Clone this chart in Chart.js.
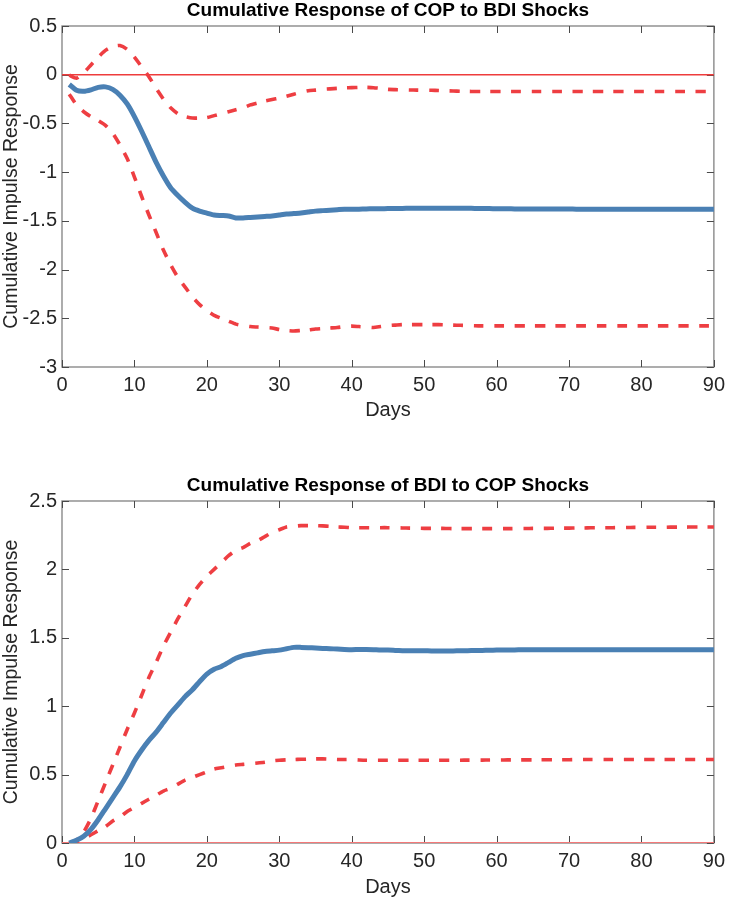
<!DOCTYPE html>
<html><head><meta charset="utf-8">
<script src="https://cdn.jsdelivr.net/npm/chart.js@4/dist/chart.umd.min.js"></script>
<style>
html,body{margin:0;padding:0;background:#fff;width:731px;height:899px;overflow:hidden}
canvas{position:absolute;left:0}
#c1{top:0}
#c2{top:475px}
</style></head>
<body>
<canvas id="c1" width="731" height="424"></canvas>
<canvas id="c2" width="731" height="424"></canvas>
<script>
// ---------- DATA ----------
const days = [1,2,3,4,5,6,7,8,9,10,11,12,13,14,15,16,17,18,19,20,21,22,23,24,25,26,27,28,29,30,
  31,32,33,34,35,36,37,38,39,40,41,42,43,44,45,46,47,48,49,50,51,52,53,54,55,56,57,58,59,60,
  61,62,63,64,65,66,67,68,69,70,71,72,73,74,75,76,77,78,79,80,81,82,83,84,85,86,87,88,89,90];

// Panel 1: Cumulative Response of COP to BDI Shocks
const copResponse = [-0.10,-0.16,-0.17,-0.155,-0.13,-0.125,-0.15,-0.21,-0.30,-0.43,
  -0.58,-0.74,-0.90,-1.04,-1.16,-1.24,-1.31,-1.37,-1.40,-1.42,
  -1.44,-1.445,-1.45,-1.47,-1.47,-1.465,-1.46,-1.455,-1.45,-1.44,
  -1.43,-1.425,-1.42,-1.41,-1.40,-1.395,-1.39,-1.385,-1.38,-1.38,
  -1.38,-1.378,-1.376,-1.375,-1.374,-1.373,-1.372,-1.371,-1.37,-1.37,
  -1.37,-1.37,-1.37,-1.37,-1.37,-1.371,-1.372,-1.373,-1.374,-1.375,
  -1.376,-1.377,-1.378,-1.378,-1.378,-1.378,-1.379,-1.379,-1.379,-1.379,
  -1.38,-1.38,-1.38,-1.38,-1.38,-1.38,-1.38,-1.38,-1.38,-1.38,
  -1.38,-1.38,-1.38,-1.38,-1.38,-1.38,-1.38,-1.38,-1.38,-1.38];
const copUpper = [-0.005,-0.035,0.02,0.10,0.18,0.25,0.29,0.30,0.26,0.18,
  0.08,-0.02,-0.14,-0.25,-0.34,-0.40,-0.43,-0.445,-0.445,-0.44,
  -0.42,-0.40,-0.38,-0.36,-0.34,-0.31,-0.29,-0.27,-0.255,-0.24,
  -0.22,-0.20,-0.18,-0.165,-0.158,-0.15,-0.145,-0.14,-0.135,-0.133,
  -0.13,-0.13,-0.133,-0.14,-0.15,-0.153,-0.155,-0.157,-0.158,-0.16,
  -0.16,-0.162,-0.165,-0.167,-0.17,-0.171,-0.172,-0.172,-0.172,-0.172,
  -0.172,-0.172,-0.172,-0.172,-0.172,-0.172,-0.172,-0.172,-0.172,-0.172,
  -0.172,-0.172,-0.172,-0.172,-0.172,-0.172,-0.172,-0.172,-0.172,-0.172,
  -0.172,-0.172,-0.172,-0.172,-0.172,-0.172,-0.172,-0.172,-0.172,-0.172];
const copLower = [-0.20,-0.31,-0.38,-0.43,-0.47,-0.52,-0.60,-0.72,-0.86,-1.05,
  -1.25,-1.44,-1.62,-1.80,-1.95,-2.08,-2.18,-2.28,-2.36,-2.42,
  -2.47,-2.50,-2.53,-2.56,-2.575,-2.585,-2.59,-2.595,-2.60,-2.615,
  -2.625,-2.63,-2.625,-2.62,-2.61,-2.605,-2.60,-2.595,-2.585,-2.58,
  -2.585,-2.59,-2.595,-2.585,-2.575,-2.57,-2.565,-2.565,-2.565,-2.565,
  -2.565,-2.565,-2.567,-2.57,-2.572,-2.575,-2.577,-2.578,-2.578,-2.578,
  -2.578,-2.578,-2.578,-2.578,-2.578,-2.578,-2.578,-2.578,-2.578,-2.578,
  -2.578,-2.578,-2.578,-2.578,-2.578,-2.578,-2.578,-2.578,-2.578,-2.578,
  -2.578,-2.578,-2.578,-2.578,-2.578,-2.578,-2.578,-2.578,-2.578,-2.578];

// Panel 2: Cumulative Response of BDI to COP Shocks
const bdiResponse = [0.00,0.02,0.05,0.10,0.17,0.25,0.33,0.41,0.50,0.60,
  0.68,0.75,0.81,0.88,0.95,1.01,1.07,1.12,1.18,1.235,
  1.27,1.29,1.32,1.35,1.37,1.38,1.39,1.40,1.405,1.41,
  1.42,1.43,1.43,1.428,1.425,1.422,1.42,1.418,1.415,1.413,
  1.415,1.415,1.413,1.41,1.41,1.408,1.406,1.405,1.405,1.405,
  1.404,1.404,1.404,1.404,1.405,1.406,1.407,1.408,1.409,1.41,
  1.41,1.411,1.412,1.412,1.413,1.413,1.413,1.413,1.413,1.413,
  1.413,1.413,1.413,1.413,1.413,1.413,1.413,1.413,1.413,1.413,
  1.413,1.413,1.413,1.413,1.413,1.413,1.413,1.413,1.413,1.413];
const bdiUpper = [0.00,0.02,0.08,0.18,0.31,0.44,0.57,0.70,0.83,0.95,
  1.08,1.21,1.32,1.44,1.54,1.64,1.73,1.82,1.89,1.95,
  2.00,2.05,2.10,2.14,2.16,2.19,2.21,2.24,2.27,2.29,
  2.31,2.315,2.32,2.32,2.32,2.318,2.315,2.31,2.308,2.305,
  2.305,2.305,2.305,2.305,2.305,2.304,2.303,2.302,2.301,2.30,
  2.30,2.30,2.299,2.298,2.298,2.298,2.298,2.298,2.298,2.298,
  2.298,2.298,2.299,2.299,2.30,2.30,2.30,2.301,2.302,2.302,
  2.303,2.303,2.304,2.304,2.305,2.305,2.306,2.306,2.307,2.307,
  2.308,2.308,2.308,2.309,2.309,2.309,2.31,2.31,2.31,2.31];
const bdiLower = [0.00,0.01,0.03,0.06,0.09,0.12,0.16,0.19,0.23,0.26,
  0.29,0.32,0.35,0.38,0.40,0.43,0.46,0.48,0.50,0.52,
  0.54,0.55,0.56,0.57,0.575,0.58,0.585,0.59,0.60,0.605,
  0.608,0.61,0.612,0.613,0.615,0.615,0.613,0.61,0.61,0.61,
  0.607,0.605,0.605,0.605,0.605,0.605,0.605,0.605,0.605,0.605,
  0.605,0.605,0.605,0.605,0.605,0.606,0.606,0.606,0.607,0.607,
  0.607,0.608,0.608,0.608,0.608,0.609,0.609,0.609,0.609,0.609,
  0.61,0.61,0.61,0.61,0.61,0.61,0.61,0.61,0.61,0.61,
  0.61,0.61,0.61,0.61,0.61,0.61,0.61,0.61,0.61,0.61];

const zeroLineX = [0, 90];
const zeroLineY = [0, 0];

const xTicks = [0,10,20,30,40,50,60,70,80,90];
const xTickLabels = ['0','10','20','30','40','50','60','70','80','90'];
const yTicksTop = [-3,-2.5,-2,-1.5,-1,-0.5,0,0.5];
const yTickLabelsTop = ['-3','-2.5','-2','-1.5','-1','-0.5','0','0.5'];
const yTicksBottom = [0,0.5,1,1.5,2,2.5];
const yTickLabelsBottom = ['0','0.5','1','1.5','2','2.5'];

const titles = ['Cumulative Response of COP to BDI Shocks','Cumulative Response of BDI to COP Shocks'];
const xTitle = 'Days';
const yTitle = 'Cumulative Impulse Response';

// ---------- STYLE / RENDER ----------
const FONT = "'Liberation Sans', Arial, Helvetica, sans-serif";
const BLUE = 'rgb(74,128,180)';
const RED = 'rgb(238,62,66)';

function pts(xs, ys){ return xs.map((x,i)=>({x:x, y:ys[i]})); }

const boxPlugin = {
  id: 'matlabBox',
  beforeDatasetsDraw(chart){
    const {ctx, chartArea:a, scales:{x,y}} = chart;
    ctx.save();
    ctx.strokeStyle = '#8a8a8a';
    ctx.lineWidth = 1.4;
    ctx.strokeRect(a.left, a.top, a.right - a.left, a.bottom - a.top);
    ctx.strokeStyle = '#4a4a4a';
    ctx.lineWidth = 1;
    const L = 7;
    ctx.beginPath();
    x.ticks.forEach(t => {
      const px = Math.round(x.getPixelForValue(t.value)) + 0.5;
      ctx.moveTo(px, a.bottom); ctx.lineTo(px, a.bottom - L);
      ctx.moveTo(px, a.top); ctx.lineTo(px, a.top + L);
    });
    y.ticks.forEach(t => {
      const py = Math.round(y.getPixelForValue(t.value)) + 0.5;
      ctx.moveTo(a.left, py); ctx.lineTo(a.left + L, py);
      ctx.moveTo(a.right, py); ctx.lineTo(a.right - L, py);
    });
    ctx.stroke();
    ctx.restore();
  }
};

function makeChart(id, title, mean, upper, lower, yTicks, yLabels, yMin, yMax, xAxisH, daysPad, zeroColor, zeroWidth){
  return new Chart(document.getElementById(id), {
    type: 'line',
    data: {
      datasets: [
        {data: pts(days, mean), borderColor: BLUE, borderWidth: 5, pointRadius: 0, tension: 0.2, fill: false},
        {data: pts(days, upper), borderColor: RED, borderWidth: 3.6, borderDash: [10,10.5], pointRadius: 0, tension: 0.2, fill: false},
        {data: pts(days, lower), borderColor: RED, borderWidth: 3.6, borderDash: [10,10.5], pointRadius: 0, tension: 0.2, fill: false},
        {data: pts(zeroLineX, zeroLineY), borderColor: zeroColor, borderWidth: zeroWidth, pointRadius: 0, tension: 0, fill: false}
      ]
    },
    options: {
      responsive: false,
      animation: false,
      devicePixelRatio: 1,
      layout: {padding: {left: 0, right: 9, top: 0, bottom: 0}},
      plugins: {
        legend: {display: false},
        tooltip: {enabled: false},
        title: {display: true, fullSize: false, text: title, color: '#000',
          font: {family: FONT, size: 19, weight: 'bold', lineHeight: 1.0},
          padding: {top: 1, bottom: 6}}
      },
      scales: {
        x: {
          type: 'linear', min: 0, max: 90,
          afterBuildTicks: s => { s.ticks = xTicks.map(v => ({value: v})); },
          afterFit: s => { s.height = xAxisH; },
          grid: {display: false, drawTicks: false},
          border: {display: false},
          ticks: {padding: 6, color: '#262626', font: {family: FONT, size: 20},
            callback: (v) => xTickLabels[xTicks.indexOf(v)]},
          title: {display: true, text: xTitle, color: '#262626',
            font: {family: FONT, size: 20}, padding: {top: 0, bottom: daysPad}}
        },
        y: {
          type: 'linear', min: yMin, max: yMax,
          afterBuildTicks: s => { s.ticks = yTicks.map(v => ({value: v})); },
          afterFit: s => { s.width = 62; },
          grid: {display: false, drawTicks: false},
          border: {display: false},
          ticks: {padding: 5, color: '#262626', font: {family: FONT, size: 20},
            callback: (v) => yLabels[yTicks.indexOf(v)]},
          title: {display: true, text: yTitle, color: '#262626',
            font: {family: FONT, size: 19.5}, padding: {top: 0, bottom: 0}}
        }
      }
    },
    plugins: [boxPlugin]
  });
}

makeChart('c1', titles[0], copResponse, copUpper, copLower, yTicksTop, yTickLabelsTop, -3, 0.5, 57, 1.5, 'rgb(238,60,60)', 1.5);
makeChart('c2', titles[1], bdiResponse, bdiUpper, bdiLower, yTicksBottom, yTickLabelsBottom, 0, 2.5, 56, 0, 'rgb(244,120,120)', 2);
</script>
</body></html>
